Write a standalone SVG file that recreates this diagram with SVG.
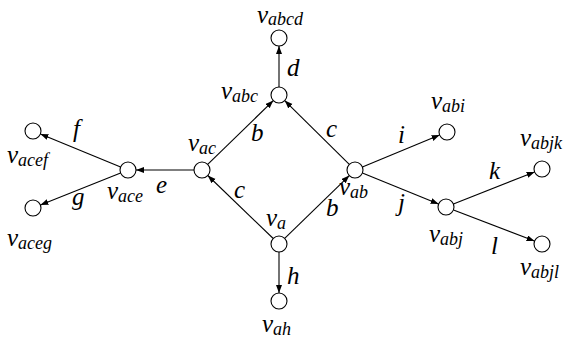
<svg xmlns="http://www.w3.org/2000/svg" width="566" height="345" viewBox="0 0 566 345">
<style>
.n{fill:#fff;stroke:#000;stroke-width:1.1}
.e{stroke:#000;stroke-width:1.1;fill:none;marker-end:url(#ah)}
text{font-family:"Liberation Serif","Times New Roman",serif;font-style:italic;font-size:25px;fill:#000}
.s{font-size:18px}
</style>
<defs>
<marker id="ah" markerUnits="userSpaceOnUse" markerWidth="9" markerHeight="7" refX="8" refY="3" orient="auto">
<path d="M0,0 L8,3 L0,6 z" fill="#000"/>
</marker>
</defs>
<rect width="566" height="345" fill="#fff"/>
<g id="edges">
<line class="e" x1="273.2" y1="238.5" x2="207.8" y2="175.5"/>
<line class="e" x1="284.7" y1="238.4" x2="349.3" y2="175.6"/>
<line class="e" x1="279" y1="252" x2="279" y2="293"/>
<line class="e" x1="207.7" y1="164.4" x2="273.3" y2="100.6"/>
<line class="e" x1="349.3" y1="164.4" x2="284.7" y2="100.6"/>
<line class="e" x1="279" y1="87" x2="279" y2="46"/>
<line class="e" x1="194" y1="170" x2="136" y2="170"/>
<line class="e" x1="120.6" y1="167" x2="40.4" y2="134"/>
<line class="e" x1="120.6" y1="173" x2="40.4" y2="205"/>
<line class="e" x1="362.4" y1="166.9" x2="439.6" y2="135.1"/>
<line class="e" x1="362.4" y1="173" x2="438.6" y2="204"/>
<line class="e" x1="453.4" y1="204.1" x2="534.6" y2="171.9"/>
<line class="e" x1="453.5" y1="209.9" x2="534.5" y2="241.1"/>
</g>
<g id="edge-labels">
<text x="287" y="76">d</text>
<text x="251" y="141">b</text>
<text x="326" y="137">c</text>
<text x="234" y="198">c</text>
<text x="156" y="193">e</text>
<text x="73" y="137">f</text>
<text x="72" y="205">g</text>
<text x="326" y="216">b</text>
<text x="287" y="284">h</text>
<text x="398" y="143">i</text>
<text x="398" y="211">j</text>
<text x="489" y="179">k</text>
<text x="491" y="254">l</text>
</g>
<g id="v_a"><circle class="n" cx="279" cy="244" r="8"/><text x="266" y="226">v<tspan class="s" dy="3">a</tspan></text></g>
<g id="v_ah"><circle class="n" cx="279" cy="301" r="8"/><text x="262" y="332">v<tspan class="s" dy="3">ah</tspan></text></g>
<g id="v_abc"><circle class="n" cx="279" cy="95" r="8"/><text x="221" y="99">v<tspan class="s" dy="3">abc</tspan></text></g>
<g id="v_abcd"><circle class="n" cx="279" cy="38" r="8"/><text x="257" y="23">v<tspan class="s" dy="2">abcd</tspan></text></g>
<g id="v_ac"><circle class="n" cx="202" cy="170" r="8"/><text x="188" y="151">v<tspan class="s" dy="3">ac</tspan></text></g>
<g id="v_ab"><circle class="n" cx="355" cy="170" r="8"/><text x="339" y="195">v<tspan class="s" dy="3">ab</tspan></text></g>
<g id="v_ace"><circle class="n" cx="128" cy="170" r="8"/><text x="107" y="199">v<tspan class="s" dy="3">ace</tspan></text></g>
<g id="v_acef"><circle class="n" cx="33" cy="131" r="8"/><text x="7" y="163">v<tspan class="s" dy="3">acef</tspan></text></g>
<g id="v_aceg"><circle class="n" cx="33" cy="208" r="8"/><text x="7" y="246">v<tspan class="s" dy="3">aceg</tspan></text></g>
<g id="v_abi"><circle class="n" cx="447" cy="132" r="8"/><text x="431" y="109">v<tspan class="s" dy="3">abi</tspan></text></g>
<g id="v_abj"><circle class="n" cx="446" cy="207" r="8"/><text x="429" y="242">v<tspan class="s" dy="3">abj</tspan></text></g>
<g id="v_abjk"><circle class="n" cx="542" cy="169" r="8"/><text x="520" y="146">v<tspan class="s" dy="3">abjk</tspan></text></g>
<g id="v_abjl"><circle class="n" cx="542" cy="244" r="8"/><text x="520" y="275">v<tspan class="s" dy="3">abjl</tspan></text></g>
</svg>
